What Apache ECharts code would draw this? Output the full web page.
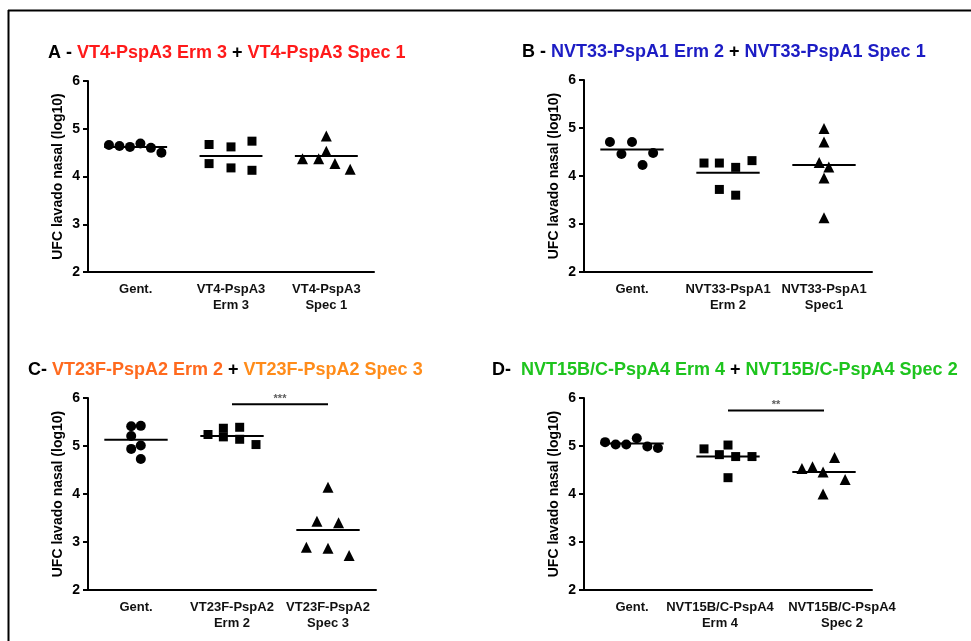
<!DOCTYPE html>
<html lang="en">
<head>
<meta charset="utf-8">
<title>UFC lavado nasal</title>
<script src="https://cdn.jsdelivr.net/npm/echarts@6/dist/echarts.min.js"></script>
<style>
  html, body { margin: 0; padding: 0; background: #fff; }
  #chart { width: 971px; height: 641px; }
</style>
</head>
<body>
<div id="chart"></div>
<script type="text/javascript">
// --- data ---
var catsA = ['Gent.', 'VT4-PspA3\nErm 3', 'VT4-PspA3\nSpec 1'];
var gentA = [4.66, 4.64, 4.62, 4.69, 4.60, 4.50];
var gentAx = [-0.28, -0.17, -0.06, 0.05, 0.16, 0.27];
var ermA = [4.67, 4.62, 4.74, 4.27, 4.18, 4.13];
var ermAx = [-0.23, 0, 0.22, -0.23, 0, 0.22];
var specA = [4.37, 4.37, 4.85, 4.53, 4.27, 4.15];
var specAx = [-0.25, -0.08, 0, 0, 0.09, 0.25];
var meansA = [4.62, 4.43, 4.43];

var catsB = ['Gent.', 'NVT33-PspA1\nErm 2', 'NVT33-PspA1\nSpec1'];
var gentB = [4.71, 4.46, 4.71, 4.23, 4.48];
var gentBx = [-0.23, -0.11, 0, 0.11, 0.22];
var ermB = [4.27, 4.27, 4.18, 4.32, 3.72, 3.60];
var ermBx = [-0.25, -0.09, 0.08, 0.25, -0.09, 0.08];
var specB = [4.99, 4.71, 4.28, 4.19, 3.96, 3.13];
var specBx = [0, 0, -0.05, 0.05, 0, 0];
var meansB = [4.55, 4.07, 4.23];

var catsC = ['Gent.', 'VT23F-PspA2\nErm 2', 'VT23F-PspA2\nSpec 3'];
var gentC = [5.41, 5.42, 5.21, 5.01, 4.94, 4.73];
var gentCx = [-0.05, 0.05, -0.05, 0.05, -0.05, 0.05];
var ermC = [5.24, 5.37, 5.19, 5.39, 5.14, 5.03];
var ermCx = [-0.25, -0.09, -0.09, 0.08, 0.08, 0.25];
var specC = [4.14, 3.43, 3.40, 2.89, 2.87, 2.72];
var specCx = [0, -0.115, 0.11, -0.225, 0, 0.22];
var meansC = [5.13, 5.21, 3.25];
var sigC = [1, 2, 5.87, '***'];

var catsD = ['Gent.', 'NVT15B/C-PspA4\nErm 4', 'NVT15B/C-PspA4\nSpec 2'];
var gentD = [5.08, 5.03, 5.03, 5.16, 4.99, 4.96];
var gentDx = [-0.28, -0.17, -0.06, 0.05, 0.16, 0.27];
var ermD = [4.94, 4.82, 5.02, 4.78, 4.78, 4.34];
var ermDx = [-0.25, -0.09, 0, 0.08, 0.25, 0];
var specD = [4.53, 4.57, 4.46, 4.76, 4.30, 4.00];
var specDx = [-0.23, -0.12, -0.01, 0.11, 0.22, -0.01];
var meansD = [5.05, 4.78, 4.46];
var sigD = [1, 2, 5.74, '**'];

var yTicks = [2, 3, 4, 5, 6];

// --- chart ---
var FONT = 'Arial, "Liberation Sans", sans-serif';
var myChart = echarts.init(document.getElementById('chart'));

var grids = [
  { left: 88, top: 81, width: 286, height: 191 },
  { left: 584, top: 80, width: 288, height: 192 },
  { left: 88, top: 398, width: 288, height: 192 },
  { left: 584, top: 398, width: 288, height: 192 }
];
var panels = [
  { cats: catsA, groups: [[gentA, gentAx], [ermA, ermAx], [specA, specAx]], means: meansA, sig: null },
  { cats: catsB, groups: [[gentB, gentBx], [ermB, ermBx], [specB, specBx]], means: meansB, sig: null },
  { cats: catsC, groups: [[gentC, gentCx], [ermC, ermCx], [specC, specCx]], means: meansC, sig: sigC },
  { cats: catsD, groups: [[gentD, gentDx], [ermD, ermDx], [specD, specDx]], means: meansD, sig: sigD }
];
var symbols = ['circle', 'rect', 'triangle'];
var sizes = [10, 9, 11];

var xAxes = [], yAxes = [], series = [];
for (var p = 0; p < 4; p++) {
  var catData = panels[p].cats.slice();
  if (p == 3) {
    // labels pushed apart in the original
    catData = [catData[0],
      { value: catData[1], textStyle: { padding: [0, 16, 0, 0] } },
      { value: catData[2], textStyle: { padding: [0, 0, 0, 36] } }];
  }
  xAxes.push({
    gridIndex: p, type: 'category', data: catData, boundaryGap: true,
    axisLine: { onZero: false, lineStyle: { color: '#000', width: 2 } },
    axisTick: { alignWithLabel: true, length: 5, lineStyle: { color: '#000', width: 2 } },
    axisLabel: { color: '#111', fontFamily: FONT, fontWeight: 'bold', fontSize: 13, lineHeight: 16, margin: 9, interval: 0 }
  });
  yAxes.push({
    gridIndex: p, type: 'value', min: yTicks[0], max: yTicks[yTicks.length - 1], interval: 1,
    name: 'UFC lavado nasal (log10)', nameLocation: 'middle', nameGap: 23,
    nameTextStyle: { color: '#000', fontFamily: FONT, fontWeight: 'bold', fontSize: 14 },
    splitLine: { show: false },
    axisLine: { show: true, onZero: false, lineStyle: { color: '#000', width: 2 } },
    axisTick: { show: true, length: 5, lineStyle: { color: '#000', width: 2 } },
    axisLabel: { color: '#000', fontFamily: FONT, fontWeight: 'bold', fontSize: 14, margin: 8 }
  });
}
for (var p = 0; p < 4; p++) {
  // hidden value axis used to place jittered points
  xAxes.push({ gridIndex: p, type: 'value', min: -0.5, max: 2.5, show: false });
}

for (var p = 0; p < 4; p++) {
  var pan = panels[p];
  for (var g = 0; g < 3; g++) {
    var vals = pan.groups[g][0], offs = pan.groups[g][1];
    var pts = [];
    for (var i = 0; i < vals.length; i++) pts.push([g + offs[i], vals[i]]);
    series.push({
      type: 'scatter', xAxisIndex: 4 + p, yAxisIndex: p, data: pts,
      symbol: symbols[g], symbolSize: sizes[g], itemStyle: { color: '#000', opacity: 1 }, silent: true
    });
    series.push({
      type: 'line', xAxisIndex: 4 + p, yAxisIndex: p, symbol: 'none', silent: true,
      data: [[g - 0.33, pan.means[g]], [g + 0.33, pan.means[g]]],
      lineStyle: { color: '#000', width: 2 }
    });
  }
  if (pan.sig) {
    var s = pan.sig;
    series.push({
      type: 'line', xAxisIndex: 4 + p, yAxisIndex: p, symbol: 'none', silent: true,
      data: [[s[0], s[2]], [s[1], s[2]]],
      lineStyle: { color: '#000', width: 2 }
    });
    series.push({
      type: 'scatter', xAxisIndex: 4 + p, yAxisIndex: p, symbolSize: 0, silent: true,
      data: [[(s[0] + s[1]) / 2, s[2]]],
      label: { show: true, position: 'top', distance: 0, formatter: s[3], color: '#333', fontFamily: FONT, fontSize: 11, fontWeight: 'bold' }
    });
  }
}

function titleText(x, y, parts, colors) {
  var txt = '', rich = {};
  for (var i = 0; i < parts.length; i++) {
    txt += '{c' + i + '|' + parts[i] + '}';
    rich['c' + i] = { fill: colors[i], font: 'bold 18px ' + FONT };
  }
  return { type: 'text', x: x, y: y, style: { text: txt, rich: rich, font: 'bold 18px ' + FONT, verticalAlign: 'middle' } };
}

option = {
  backgroundColor: '#fff',
  animation: false,
  grid: grids,
  xAxis: xAxes,
  yAxis: yAxes,
  series: series,
  graphic: [
    { type: 'line', shape: { x1: 8, y1: 10.5, x2: 971, y2: 10.5 }, style: { stroke: '#000', lineWidth: 2 } },
    { type: 'line', shape: { x1: 8.5, y1: 10, x2: 8.5, y2: 641 }, style: { stroke: '#000', lineWidth: 2 } },
    titleText(48, 53, ['A - ', 'VT4-PspA3 Erm 3', ' + ', 'VT4-PspA3 Spec 1'], ['#000', '#ff1a1a', '#000', '#ff1a1a']),
    titleText(522, 52, ['B - ', 'NVT33-PspA1 Erm 2', ' + ', 'NVT33-PspA1 Spec 1'], ['#000', '#1c1cc4', '#000', '#1c1cc4']),
    titleText(28, 370, ['C- ', 'VT23F-PspA2 Erm 2', ' + ', 'VT23F-PspA2 Spec 3'], ['#000', '#ff6a1e', '#000', '#ff8c1a']),
    titleText(492, 370, ['D-  ', 'NVT15B/C-PspA4 Erm 4', ' + ', 'NVT15B/C-PspA4 Spec 2'], ['#000', '#1ec41e', '#000', '#1ec41e'])
  ]
};
if (option && typeof option === 'object') {
  myChart.setOption(option);
}
</script>
</body>
</html>
